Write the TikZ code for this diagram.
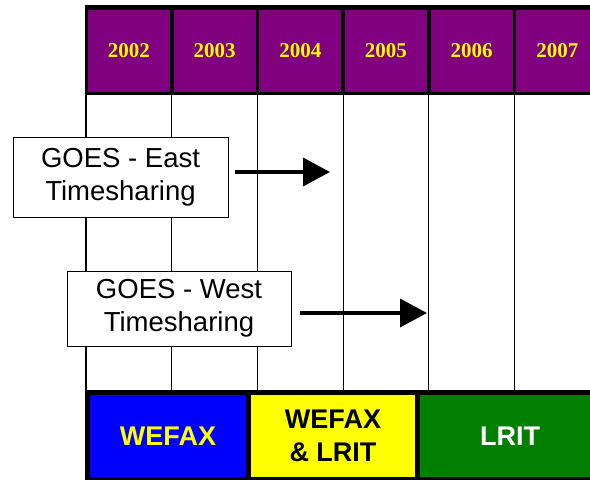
\documentclass[tikz,border=0pt]{standalone}
\usepackage{fontspec}
\setmainfont{Liberation Sans}
\newfontfamily\yearfont{Liberation Serif}
\usetikzlibrary{arrows.meta}
\definecolor{hdrpurple}{HTML}{800080}
\definecolor{barblue}{HTML}{0000FF}
\definecolor{baryellow}{HTML}{FFFF00}
\definecolor{bargreen}{HTML}{007F00}
\begin{document}
\begin{tikzpicture}[x=1pt,y=-1pt,
  yearcell/.style={fill=hdrpurple, minimum width=82pt, minimum height=82pt, inner sep=0pt,
    text=baryellow, font=\yearfont\bfseries\fontsize{21}{22}\selectfont},
  gridline/.style={line width=1.2pt, black},
  timebox/.style={draw=black, line width=1pt, fill=white, inner sep=0pt, align=center,
    font=\fontsize{27.5}{33}\selectfont},
  phasecell/.style={inner sep=0pt, minimum height=82pt, align=center,
    font=\bfseries\fontsize{27}{34}\selectfont},
  bigarrow/.style={line width=3.5pt, -{Triangle[length=27pt,width=28pt]}}
]
\useasboundingbox (0,0) rectangle (590,480);
\clip (0,0) rectangle (590,480);
\fill[white] (0,0) rectangle (590,480);
% header band
\fill[black] (85,5) rectangle (600,95);
\foreach \i/\yr in {0/2002,1/2003,2/2004,3/2005,4/2006,5/2007}{
  \node[yearcell] (y\yr) at ({86+85.7*\i+42.85},51) {\yr};
}
% grid lines
\foreach \i in {0,...,5}{
  \draw[gridline] ({86+85.7*\i},95) -- ({86+85.7*\i},391);
}
% bottom band
\fill[black] (85,390) rectangle (600,480);
\node[phasecell, fill=barblue, minimum width=156pt, text=baryellow] (wefax) at (168,436) {WEFAX};
\node[phasecell, fill=baryellow, minimum width=164pt, text=black] (both) at (333,436) {WEFAX\\[-1pt]\& LRIT};
\node[phasecell, fill=bargreen, minimum width=180pt, text=white] (lrit) at (510,436) {LRIT};
% time-sharing boxes
\node[timebox, minimum width=215pt, minimum height=80pt] (east) at (120.5,177) {GOES - East\\Timesharing};
\node[timebox, minimum width=224pt, minimum height=75pt] (west) at (179,308.5) {GOES - West\\Timesharing};
\coordinate (eStart) at (235,172);
\coordinate (eEnd) at (330,172);
\coordinate (wStart) at (300,313);
\coordinate (wEnd) at (427,313);
\draw[bigarrow] (eStart) -- (eEnd);
\draw[bigarrow] (wStart) -- (wEnd);
\end{tikzpicture}
\end{document}
